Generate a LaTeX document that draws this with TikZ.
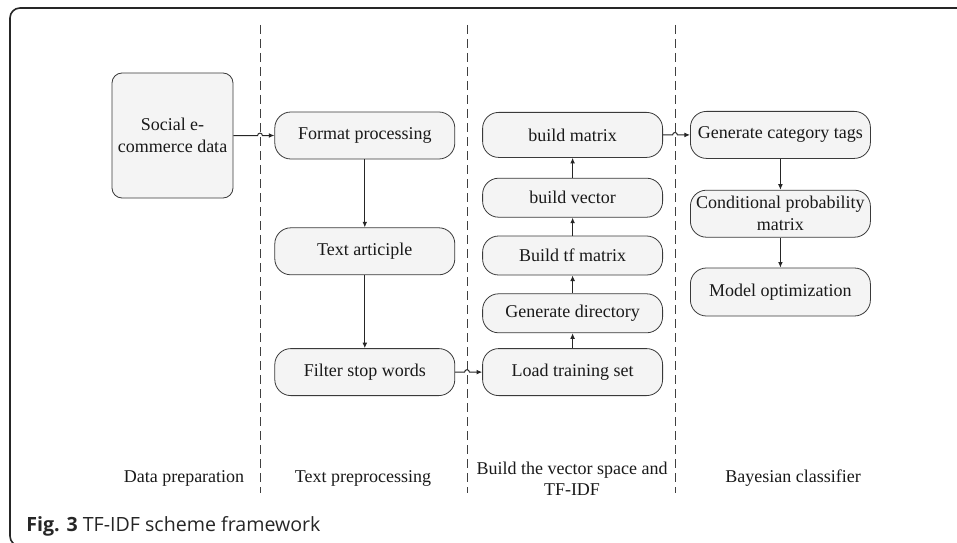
\documentclass[tikz,border=0pt]{standalone}
\usepackage{fontspec}
\setmainfont{Liberation Serif}
\newfontfamily\capfont{Open Sans}
\usepackage{tikz}
\usetikzlibrary{arrows,arrows.meta}
\usetikzlibrary{positioning}
\usetikzlibrary{calc}
\tikzset{>=stealth}
\definecolor{boxfill}{HTML}{F4F4F4}
\definecolor{boxline}{HTML}{3A3A3A}
\tikzstyle{block} = [draw=boxline, 
fill=boxfill, 
rounded corners=8pt,
minimum width=90pt, 
minimum height=23.5pt,
inner sep=1pt,
align=center,
text=black!90,
font=\fontsize{9}{11}\selectfont]
\tikzstyle{line} = [draw, 
-{Latex[length=2.8pt,width=2.4pt]}, 
line width=0.5pt,
color=black!85]

\begin{document}
\begin{tikzpicture}[x=0.5pt, y=0.5pt,
	lane/.style={draw=black!75, line width=0.5pt, dash pattern=on 4.5pt off 2.5pt},
	phase/.style={align=center, text=black!90, font=\fontsize{9}{10.5}\selectfont}]
	\useasboundingbox (0,0) rectangle (957,542);
	%% Frame
	\draw [line width=0.8pt, color=black!85, rounded corners=5pt] (970,534) -- (10,534) -- (10,-4) -- (970,-4);
	%% Lanes
	\foreach \x [count=\i] in {260,467,675} {
		\draw [lane] (\x,517) -- (\x,49);
		\coordinate (d\i) at (\x,517);
	}
	%% Data preparation
	\node [block, rounded corners=5pt, minimum width=60.5pt, minimum height=62.5pt] (soc) at (172.5,406.5) {Social e-\\commerce data};
	%% Text preprocessing
	\node [block, right=20.5pt of soc] (fmt) {Format processing};
	\node [block, below=34pt of fmt] (art) {Text articiple};
	\node [block, below=36.5pt of art] (fil) {Filter stop words};
	%% Vector space
	\node [block, right=13.5pt of fil] (load) {Load training set};
	\node [block, minimum height=19.5pt, above=7.5pt of load] (gdir) {Generate directory};
	\node [block, minimum height=19.5pt, above=9pt of gdir] (btf) {Build tf matrix};
	\node [block, minimum height=19.5pt, above=9pt of btf] (bvec) {build vector};
	\node [block, minimum height=22.5pt, above=10pt of bvec] (bmat) {build matrix};
	%% Bayesian classifier
	\node [block, right=13.5pt of bmat] (gct) {Generate category tags};
	\node [block, below=15.5pt of gct] (cpm) {Conditional probability\\matrix};
	\node [block, minimum height=24pt, below=15pt of cpm] (mopt) {Model optimization};
	%% Lane titles
	\node [phase] (lp1) at (184,64) {Data preparation};
	\node [phase] (lp2) at (363,64) {Text preprocessing};
	\node [phase] (lp3) at (572,63) {Build the vector space and\\TF-IDF};
	\node [phase] (lp4) at (793,64) {Bayesian classifier};
	\node [anchor=base west, inner sep=0pt, text=black!85, font=\capfont\fontsize{9.8}{11}\selectfont] (cap) at (26,11) {\textbf{Fig. 3} TF-IDF scheme framework};
	%% Flows across lanes
	\path [line] (soc.east) -- ($(soc.east -| d1)+(-1.2pt,0)$) arc [start angle=180, end angle=0, radius=1.2pt] -- (fmt.west);
	\path [line] (fil.east) -- ($(fil.east -| d2)+(-1.2pt,0)$) arc [start angle=180, end angle=0, radius=1.2pt] -- (load.west);
	\path [line] (bmat.east) -- ($(bmat.east -| d3)+(-1.2pt,0)$) arc [start angle=180, end angle=0, radius=1.2pt] -- (gct.west);
	%% Flows within lanes
	\path [line] (fmt) -- (art);
	\path [line] (art) -- (fil);
	\path [line] (load) -- (gdir);
	\path [line] (gdir) -- (btf);
	\path [line] (btf) -- (bvec);
	\path [line] (bvec) -- (bmat);
	\path [line] (gct) -- (cpm);
	\path [line] (cpm) -- (mopt);
\end{tikzpicture}
\end{document}
